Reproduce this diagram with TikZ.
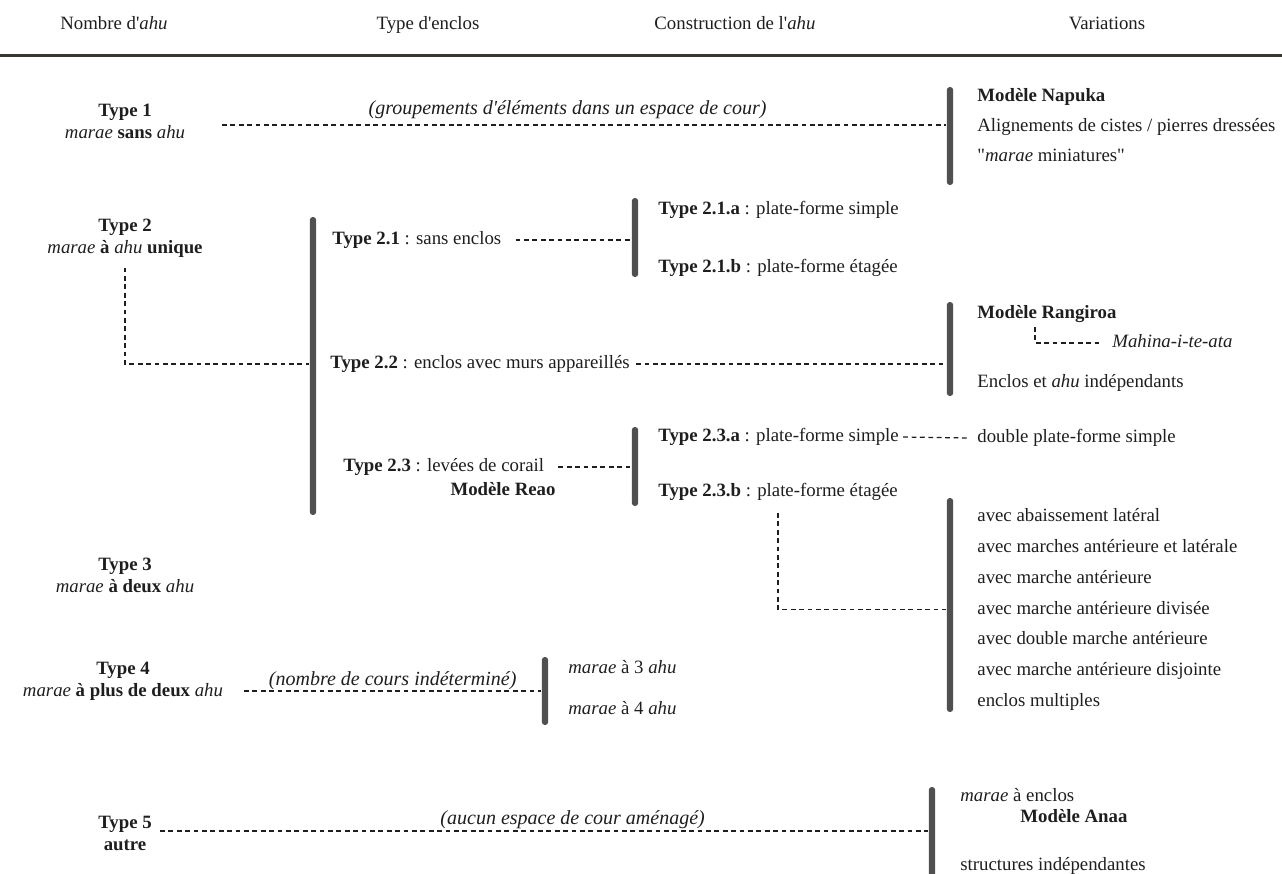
\documentclass[tikz,border=0pt]{standalone}
\usepackage{fontspec}
\setmainfont{Liberation Serif}
\newfontfamily\rawserif{Liberation Serif}[Ligatures=ResetAll]
\usetikzlibrary{positioning}

\definecolor{barcol}{HTML}{505050}
\definecolor{inkcol}{HTML}{1E1E1E}
\definecolor{rulecol}{HTML}{3A3631}

\newcommand{\straightq}{{\rawserif\symbol{"22}}}

\tikzset{
  txt/.style={inner sep=0pt, anchor=west, text height=6.6pt, text depth=2pt, text=inkcol},
  head/.style={inner sep=0pt, text height=6.6pt, text depth=2pt, text=inkcol},
  typ/.style={inner sep=0pt, align=center, text=inkcol},
  bar/.style={fill=barcol, rounded corners=1.5pt, minimum width=3.2pt, inner sep=0pt},
  link/.style={draw=inkcol, line width=0.6pt, dash pattern=on 2.4pt off 1.8pt},
  note/.style={inner sep=0pt, font=\itshape, text=inkcol, anchor=south, yshift=1pt}
}

\begin{document}
\begin{tikzpicture}[x=0.5pt, y=-0.5pt, font=\fontsize{9.4}{11}\selectfont]
    \useasboundingbox (0,0) rectangle (1282,874);
    % column heads
    \node[head] (hnombre) at (114,25) {Nombre d\textquotesingle\emph{ahu}};
    \node[head] (henclos) at (428,25) {Type d\textquotesingle enclos};
    \node[head] (hconstr) at (735,25) {Construction de l\textquotesingle\emph{ahu}};
    \node[head] (hvar) at (1107,25) {Variations};
    \draw[rulecol, line width=1.5pt] (0,55) -- (1282,55);

    % type 1
    \node[typ] (t1) at (125,121) {\textbf{Type 1}\\\emph{marae} \textbf{sans} \emph{ahu}};
    \node[bar, minimum height=49pt] (b1) at (950,136) {};
    \node[txt] (napuka) at (977,97) {\textbf{Modèle Napuka}};
    \node[txt] (cistes) at (977,127) {Alignements de cistes / pierres dressées};
    \node[txt] (mini) at (977,157) {\straightq\emph{marae} miniatures\straightq};
    \coordinate (c1) at (222,125);
    \draw[link] (c1) -- (c1 -| b1.west) node[note, pos=0.477, yshift=2pt] (n1) {(groupements d\textquotesingle éléments dans un espace de cour)};

    % type 2
    \node[typ] (t2) at (125,238) {\textbf{Type 2}\\\emph{marae} \textbf{à} \emph{ahu} \textbf{unique}};
    \node[bar, minimum height=149pt] (b2) at (313,366) {};
    \node[txt] (t21) at (332,240) {\textbf{Type 2.1} : sans enclos};
    \node[bar, minimum height=39.5pt] (b21) at (635,237.5) {};
    \node[txt] (t21a) at (658,210) {\textbf{Type 2.1.a} : plate-forme simple};
    \node[txt] (t21b) at (658,268) {\textbf{Type 2.1.b} : plate-forme étagée};
    \node[txt] (t22) at (330,364) {\textbf{Type 2.2} : enclos avec murs appareillés};
    \node[bar, minimum height=47pt] (bR) at (950,349) {};
    \node[txt] (rangiroa) at (977,314) {\textbf{Modèle Rangiroa}};
    \node[txt] (mahina) at (1112,343) {\emph{Mahina-i-te-ata}};
    \node[txt] (indep) at (977,383) {Enclos et \emph{ahu} indépendants};
    \node[txt] (t23) at (343,467) {\textbf{Type 2.3} : levées de corail};
    \node[typ] (reao) at (503,489) {\textbf{Modèle Reao}};
    \node[bar, minimum height=39.5pt] (b23) at (635,466.5) {};
    \node[txt] (t23a) at (658,437) {\textbf{Type 2.3.a} : plate-forme simple};
    \node[txt] (dbl) at (977,438) {double plate-forme simple};
    \node[txt] (t23b) at (658,492) {\textbf{Type 2.3.b} : plate-forme étagée};
    \node[bar, minimum height=107pt] (bV) at (950,605) {};
    \node[txt] (v1) at (977,517) {avec abaissement latéral};
    \node[txt, below=6.4pt of v1.south west, anchor=north west] (v2) {avec marches antérieure et latérale};
    \node[txt, below=6.4pt of v2.south west, anchor=north west] (v3) {avec marche antérieure};
    \node[txt, below=6.4pt of v3.south west, anchor=north west] (v4) {avec marche antérieure divisée};
    \node[txt, below=6.4pt of v4.south west, anchor=north west] (v5) {avec double marche antérieure};
    \node[txt, below=6.4pt of v5.south west, anchor=north west] (v6) {avec marche antérieure disjointe};
    \node[txt, below=6.4pt of v6.south west, anchor=north west] (v7) {enclos multiples};
    \coordinate (rk) at (1035,327);
    \draw[link] ([yshift=-5pt]t2.south) |- (b2.west |- t22.west);
    \draw[link] ([xshift=7pt]t21.east) -- (b21.west |- t21.east);
    \draw[link] ([xshift=3pt]t22.east) -- (bR.west |- t22.east);
    \draw[link] (rk) |- ([xshift=-5pt]mahina.west);
    \draw[link] ([xshift=7pt]t23.east) -- (b23.west |- t23.east);
    \draw[link] ([xshift=2pt]t23a.east) -- ([xshift=-4pt]dbl.west);
    \draw[link] ([yshift=-6pt]t23b.south) |- (bV.west |- v4.west);

    % type 3
    \node[typ] (t3) at (125,575) {\textbf{Type 3}\\\emph{marae} \textbf{à deux} \emph{ahu}};

    % type 4
    \node[typ] (t4) at (123,681) {\textbf{Type 4}\\\emph{marae} \textbf{à plus de deux} \emph{ahu}};
    \node[bar, minimum height=34pt] (b4) at (545,691) {};
    \node[txt] (a3) at (568,669) {\emph{marae} à 3 \emph{ahu}};
    \node[txt] (a4) at (568,710) {\emph{marae} à 4 \emph{ahu}};
    \coordinate (c4) at (244,691);
    \draw[link] (c4) -- (c4 -| b4.west) node[note, midway, yshift=-0.5pt] (n4) {(nombre de cours indéterminé)};

    % type 5
    \node[typ] (t5) at (125,833) {\textbf{Type 5}\\\textbf{autre}};
    \node[bar, minimum height=48pt] (b5) at (932,835) {};
    \node[txt] (enclos5) at (960,797) {\emph{marae} à enclos};
    \node[txt] (anaa) at (1020,818) {\textbf{Modèle Anaa}};
    \node[txt] (struct) at (960,866) {structures indépendantes};
    \coordinate (c5) at (160,831);
    \draw[link] (c5) -- (c5 -| b5.west) node[note, pos=0.537] (n5) {(aucun espace de cour aménagé)};
\end{tikzpicture}
\end{document}
